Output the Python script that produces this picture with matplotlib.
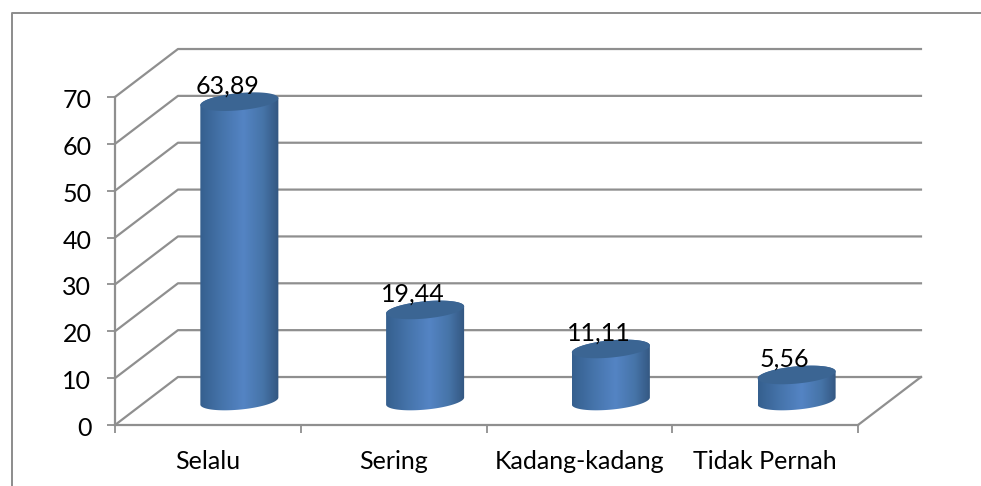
import matplotlib
matplotlib.use("Agg")
import matplotlib.pyplot as plt
import numpy as np
from matplotlib.colors import LinearSegmentedColormap
from matplotlib.lines import Line2D
from matplotlib.patches import Polygon
from matplotlib.transforms import ScaledTranslation

categories = ['Selalu', 'Sering', 'Kadang-kadang', 'Tidak Pernah']
values = [63.89, 19.44, 11.11, 5.56]
value_labels = ['63,89', '19,44', '11,11', '5,56']
y_ticks = [0, 10, 20, 30, 40, 50, 60, 70]

plt.rcParams['font.family'] = ['Lato', 'DejaVu Sans']
GRID = '#8f8f8f'
DEPTH_X = 0.339   # depth of the fake 3d box, in data units
DEPTH_Y = 10.24
RX = 0.21         # cylinder ellipse
RY = 1.84
TILT = 0.75
FONT = 18

fig = plt.figure(figsize=(9.81, 4.86), dpi=100)
ax = fig.add_axes([115 / 981, (486 - 425) / 486, 743 / 981, 328 / 486])
ax.patch.set_visible(False)

# outer frame, only top and left are in the picture
fig.add_artist(Line2D([12 / 981, 12 / 981, 1], [0, 1 - 13 / 486, 1 - 13 / 486],
                      color='#8c8c8c', lw=1.4, transform=fig.transFigure))

# floor and walls
for v in y_ticks:
    ax.plot([0, DEPTH_X, 4 + DEPTH_X], [v, v + DEPTH_Y, v + DEPTH_Y],
            color=GRID, lw=1.6, clip_on=False, zorder=1)
ax.plot([4, 4 + DEPTH_X], [0, DEPTH_Y], color=GRID, lw=1.6, clip_on=False, zorder=1)

side_cmap = LinearSegmentedColormap.from_list(
    'side', [(0, '#355f8e'), (0.25, '#4472a8'), (0.55, '#5484c4'),
             (0.8, '#4674a8'), (1, '#335680')])
gradient = np.linspace(0, 1, 256).reshape(1, -1)


def ellipse(cx, cy, t):
    return cx + RX * np.cos(t), cy + RY * np.sin(t) + TILT * np.cos(t)


for i, val in enumerate(values):
    cx = i + 0.5 + DEPTH_X / 2
    base = DEPTH_Y / 2
    top = val + base
    xb, yb = ellipse(cx, base, np.linspace(np.pi, 2 * np.pi, 60))
    xt, yt = ellipse(cx, top, np.linspace(0, np.pi, 60))
    outline = Polygon(np.column_stack([np.r_[xb, xt], np.r_[yb, yt]]),
                      closed=True, transform=ax.transData)
    im = ax.imshow(gradient, cmap=side_cmap, aspect='auto', zorder=3,
                   extent=(cx - RX, cx + RX, base - 3, top + 3))
    im.set_clip_path(outline)
    xe, ye = ellipse(cx, top, np.linspace(0, 2 * np.pi, 120))
    ax.fill(xe, ye, color='#3b6593', lw=0, zorder=4, clip_on=False)
    ax.text(cx - 0.065, top + 1.75, value_labels[i], ha='center', va='baseline',
            fontsize=FONT, color='black', zorder=5)

ax.set_xlim(0, 4)
ax.set_ylim(0, 70)

for side in ['top', 'right']:
    ax.spines[side].set_visible(False)
for side in ['left', 'bottom']:
    ax.spines[side].set_color(GRID)
    ax.spines[side].set_linewidth(1.6)
    ax.spines[side].set_zorder(2)

ax.set_yticks(y_ticks)
ax.set_xticks(range(5))
ax.set_xticklabels([])
ax.set_xticks([0.5, 1.5, 2.5, 3.5], minor=True)
ax.set_xticklabels(categories, minor=True)
ax.tick_params(axis='both', which='major', length=6, width=1.3, color=GRID,
               labelsize=FONT, pad=11)
ax.tick_params(axis='x', which='minor', length=0, labelsize=FONT, pad=18)
shift = ScaledTranslation(0, -1.5 / 100, fig.dpi_scale_trans)
for lbl in ax.get_yticklabels():
    lbl.set_transform(lbl.get_transform() + shift)

fig.savefig('out.png', dpi=100)
